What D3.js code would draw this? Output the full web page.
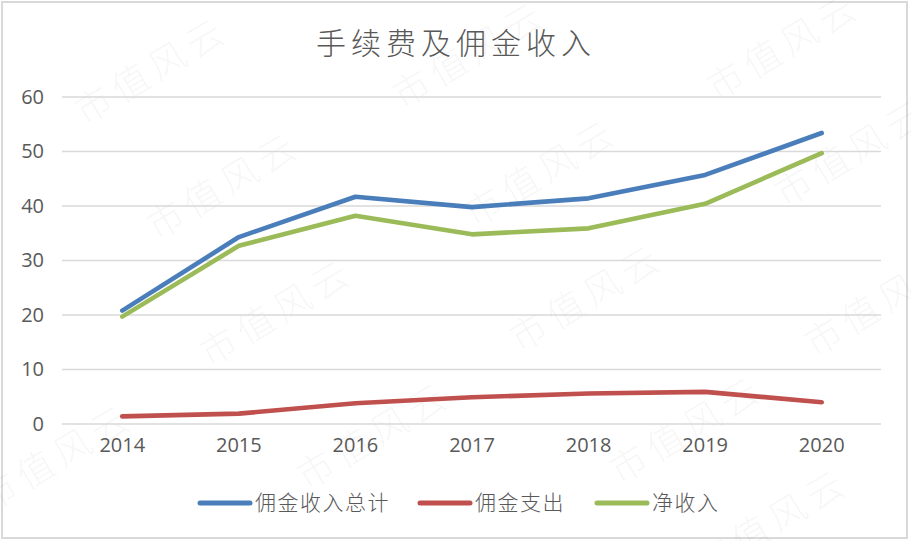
<!DOCTYPE html>
<html><head><meta charset="utf-8">
<script src="https://cdn.jsdelivr.net/npm/d3@7"></script>
<style>
html,body{margin:0;padding:0;background:#fff;}
svg{display:block;}
</style></head>
<body>
<svg id="chart" width="911" height="541"></svg>
<script>
const title = "手续费及佣金收入";
const years = ["2014","2015","2016","2017","2018","2019","2020"];
const seriesNames = ["佣金收入总计","佣金支出","净收入"];
const totalIncome = [20.8, 34.3, 41.7, 39.8, 41.4, 45.7, 53.4];
const commissionExpense = [1.4, 1.9, 3.8, 4.9, 5.6, 5.9, 4.0];
const netIncome = [19.7, 32.7, 38.2, 34.8, 35.9, 40.4, 49.7];
const yTicks = [0, 10, 20, 30, 40, 50, 60];
const colors = ["#4a7ebb", "#c0504d", "#9bbb59"];
const watermarkText = "市值风云";

const svg = d3.select("#chart");
const W = 911, H = 541;
const textColor = "#595959";
const cjk = "'Noto Sans CJK SC', 'Noto Sans', sans-serif";

svg.append("rect").attr("x",0).attr("y",0).attr("width",W).attr("height",H).attr("fill","#fff");
svg.append("rect").attr("x",2).attr("y",2).attr("width",905).attr("height",536)
  .attr("fill","#fff").attr("stroke","#d9d9d9").attr("stroke-width",2);

const x = d3.scaleBand().domain(years).range([64, 880]);
const y = d3.scaleLinear().domain([0, 60]).range([424, 97]);

// watermark (drawn beneath the chart marks)
const wmCenters = [[150,68],[468,52],[782,44],[222,183],[540,170],[850,150],
  [275,310],[585,295],[880,300],[55,455],[372,433],[685,427],[770,520]];
const wm = svg.append("g").attr("pointer-events","none");
wmCenters.forEach(([cx, cy]) => {
  wm.append("text")
    .attr("transform", `translate(${cx},${cy}) rotate(-31)`)
    .attr("text-anchor","middle").attr("dominant-baseline","central")
    .attr("fill","#000").attr("fill-opacity",0.055)
    .style("font-family", cjk).style("font-size","37px").style("font-weight","200")
    .style("letter-spacing","6px")
    .text(watermarkText);
});

// gridlines
const grid = svg.append("g");
grid.selectAll("line").data(yTicks).join("line")
  .attr("x1", 62).attr("x2", 881)
  .attr("y1", d => y(d)).attr("y2", d => y(d))
  .attr("stroke", "#d9d9d9").attr("stroke-width", 1.6);

// y axis labels
const yAxis = svg.append("g").attr("transform","translate(44,0)")
  .call(d3.axisLeft(y).tickValues(yTicks).tickSize(0).tickPadding(0));
yAxis.select(".domain").remove();
yAxis.selectAll("text").attr("fill", textColor)
  .style("font-family","'Open Sans', sans-serif").style("font-size","20px");

// x axis labels
const xAxis = svg.append("g").attr("transform","translate(0,438)")
  .call(d3.axisBottom(x).tickSize(0).tickPadding(0));
xAxis.select(".domain").remove();
xAxis.selectAll("text").attr("fill", textColor)
  .style("font-family","'Open Sans', sans-serif").style("font-size","20px");

// lines
const allSeries = [totalIncome, commissionExpense, netIncome];
const line = d3.line().x((d,i) => x(years[i]) + x.bandwidth()/2).y(d => y(d));
svg.append("g").selectAll("path").data(allSeries).join("path")
  .attr("d", d => line(d))
  .attr("fill","none")
  .attr("stroke", (d,i) => colors[i])
  .attr("stroke-width", 4.6)
  .attr("stroke-linecap","round")
  .attr("stroke-linejoin","round");

// title
svg.append("text").attr("x", 456).attr("y", 54).attr("text-anchor","middle")
  .attr("fill", textColor)
  .style("font-family", cjk).style("font-size","30px").style("font-weight","300")
  .style("letter-spacing","5px")
  .text(title);

// legend
const legendLayout = [198, 418, 595];
const lg = svg.append("g");
seriesNames.forEach((name, i) => {
  const lx = legendLayout[i];
  lg.append("line").attr("x1", lx + 2).attr("x2", lx + 52).attr("y1", 503).attr("y2", 503)
    .attr("stroke", colors[i]).attr("stroke-width", 5).attr("stroke-linecap","round");
  lg.append("text").attr("x", lx + 57).attr("y", 510)
    .attr("fill", textColor)
    .style("font-family", cjk).style("font-size","21px").style("font-weight","300")
    .style("letter-spacing","1.5px")
    .text(name);
});
</script>
</body></html>
